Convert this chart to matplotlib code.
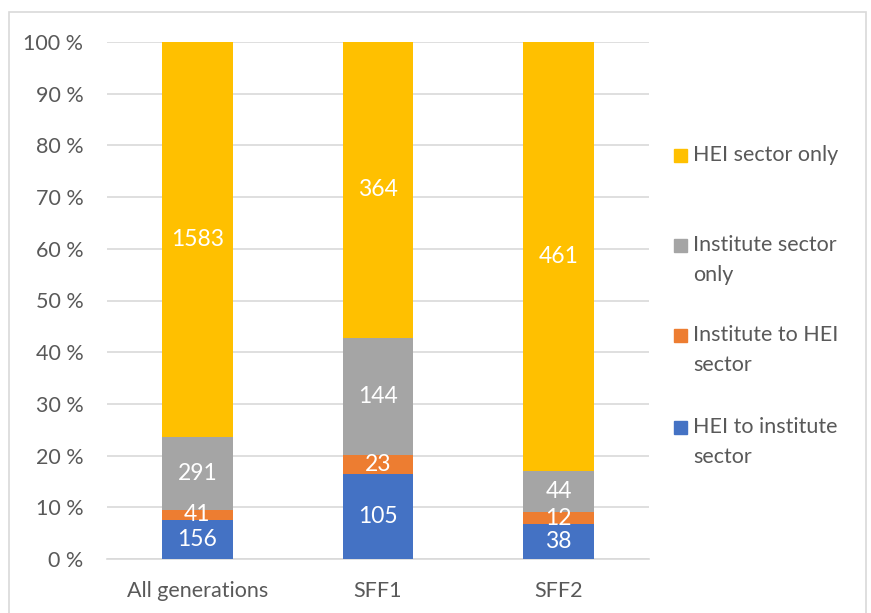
import matplotlib.pyplot as plt
from matplotlib.patches import Rectangle
import numpy as np

categories = ['All generations', 'SFF1', 'SFF2']
series_names = ['HEI to institute sector', 'Institute to HEI sector',
                'Institute sector only', 'HEI sector only']
legend_lines = [['HEI to institute', 'sector'], ['Institute to HEI', 'sector'],
                ['Institute sector', 'only'], ['HEI sector only']]
hei_to_inst = [156, 105, 38]
inst_to_hei = [41, 23, 12]
inst_only = [291, 144, 44]
hei_only = [1583, 364, 461]
colors = ['#4472C4', '#ED7D31', '#A5A5A5', '#FFC000']

plt.rcParams['font.family'] = ['Lato', 'DejaVu Sans']

W, H = 871, 613
fig = plt.figure(figsize=(W / 100, H / 100), dpi=100)
ax = fig.add_axes([107 / W, 1 - 559 / H, (649 - 107) / W, (559 - 42) / H])

data = np.array([hei_to_inst, inst_to_hei, inst_only, hei_only], dtype=float)
totals = data.sum(axis=0)
pct = data / totals * 100
x = np.arange(len(categories))
bottom = np.zeros(len(categories))
for i in range(len(series_names)):
    ax.bar(x, pct[i], 0.39, bottom=bottom, color=colors[i], zorder=3)
    for j in range(len(categories)):
        ax.text(x[j], bottom[j] + pct[i][j] / 2, str(int(data[i][j])),
                ha='center', va='center', color='white', fontsize=16.5, zorder=4)
    bottom += pct[i]

ax.set_xlim(-0.5, 2.5)
ax.set_ylim(0, 100)
ax.set_yticks(range(0, 101, 10))
ax.set_yticklabels([f'{v} %' for v in range(0, 101, 10)])
ax.set_xticks(x)
ax.set_xticklabels(categories)
ax.yaxis.grid(True, color='#D9D9D9', linewidth=1.2, zorder=0)
for s in ['top', 'right', 'left']:
    ax.spines[s].set_visible(False)
ax.spines['bottom'].set_color('#D9D9D9')
ax.spines['bottom'].set_linewidth(1.2)
ax.tick_params(axis='both', length=0, colors='#595959', labelsize=15.5)
ax.tick_params(axis='y', pad=17)
ax.tick_params(axis='x', pad=16)

# legend drawn by hand, one text per line
leg_y = [427, 335, 245, 155]
for i in range(len(series_names)):
    y0 = leg_y[i]
    fig.patches.append(Rectangle((674 / W, 1 - (y0 + 6.5) / H), 13 / W, 13 / H,
                                 transform=fig.transFigure, color=colors[i]))
    for k, line in enumerate(legend_lines[i]):
        fig.text(693 / W, 1 - (y0 + 30 * k) / H, line, va='center', ha='left',
                 fontsize=15.5, color='#595959')

fig.patches.append(Rectangle((9 / W, -0.01), (866 - 9) / W, 1 - 12 / H + 0.01,
                             transform=fig.transFigure, fill=False,
                             edgecolor='#D9D9D9', linewidth=1.2))

fig.savefig('out.png', dpi=100)
